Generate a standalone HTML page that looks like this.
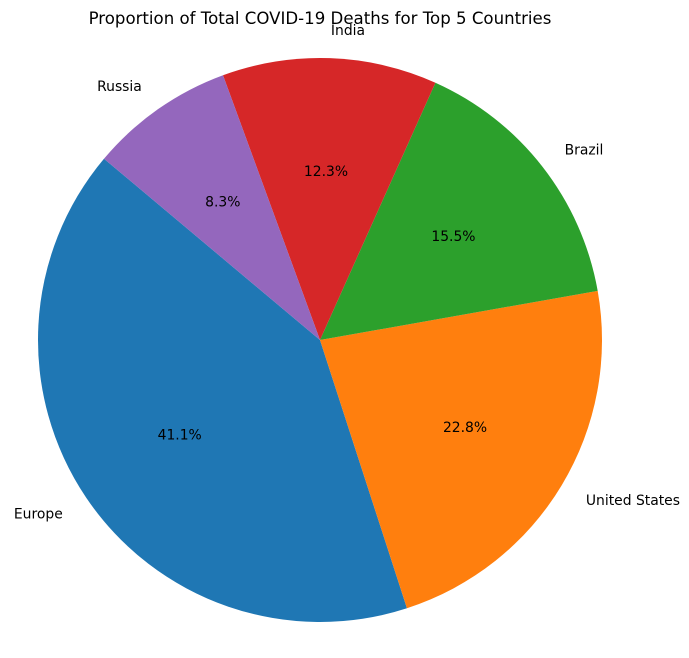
<!DOCTYPE html>
<html><head><meta charset="utf-8"><style>
html,body{margin:0;padding:0;background:#fff;}
svg{display:block;font-family:"DejaVu Sans","Liberation Sans",sans-serif;}
</style></head><body>
<svg id="chart" width="689" height="658">
<text x="320" y="24" text-anchor="middle" font-size="16.6" fill="#000">Proportion of Total COVID-19 Deaths for Top 5 Countries</text>
</svg>
<script>
const categories = ["Europe","United States","Brazil","India","Russia"];
const values = [41.1, 22.8, 15.5, 12.3, 8.3];
const colors = ["#1f77b4","#ff7f0e","#2ca02c","#d62728","#9467bd"];
const startAngle = 140;
const cx = 320, cy = 340, r = 282;
const svg = document.getElementById('chart');
const NS = "http://www.w3.org/2000/svg";
const total = values.reduce((a,b)=>a+b,0);
function pt(deg, rad){ const a = deg*Math.PI/180; return [cx + rad*Math.cos(a), cy - rad*Math.sin(a)]; }
let ang = startAngle;
values.forEach((v,i)=>{
  const sweep = v/total*360;
  const a0 = ang, a1 = ang + sweep;
  const p0 = pt(a0,r), p1 = pt(a1,r);
  const large = sweep > 180 ? 1 : 0;
  const path = document.createElementNS(NS,'path');
  path.setAttribute('d', `M${cx},${cy} L${p0[0]},${p0[1]} A${r},${r} 0 ${large} 0 ${p1[0]},${p1[1]} Z`);
  path.setAttribute('fill', colors[i]);
  
  
  svg.appendChild(path);
  const mid = (a0+a1)/2;
  const lp = pt(mid, r*1.1);
  const lbl = document.createElementNS(NS,'text');
  const cosm = Math.cos(mid*Math.PI/180);
  lbl.setAttribute('x', lp[0]); lbl.setAttribute('y', lp[1]+5);
  lbl.setAttribute('text-anchor', cosm > 0 ? 'start' : 'end');
  lbl.setAttribute('font-size', '13.9');
  lbl.textContent = categories[i];
  
  
  svg.appendChild(lbl);
  const pp = pt(mid, r*0.6);
  const pct = document.createElementNS(NS,'text');
  pct.setAttribute('x', pp[0]); pct.setAttribute('y', pp[1]+5);
  pct.setAttribute('text-anchor', 'middle');
  pct.setAttribute('font-size', '13.9');
  pct.textContent = (v/total*100).toFixed(1) + '%';
  
  
  svg.appendChild(pct);
  ang = a1;
});
</script>
</body></html>
